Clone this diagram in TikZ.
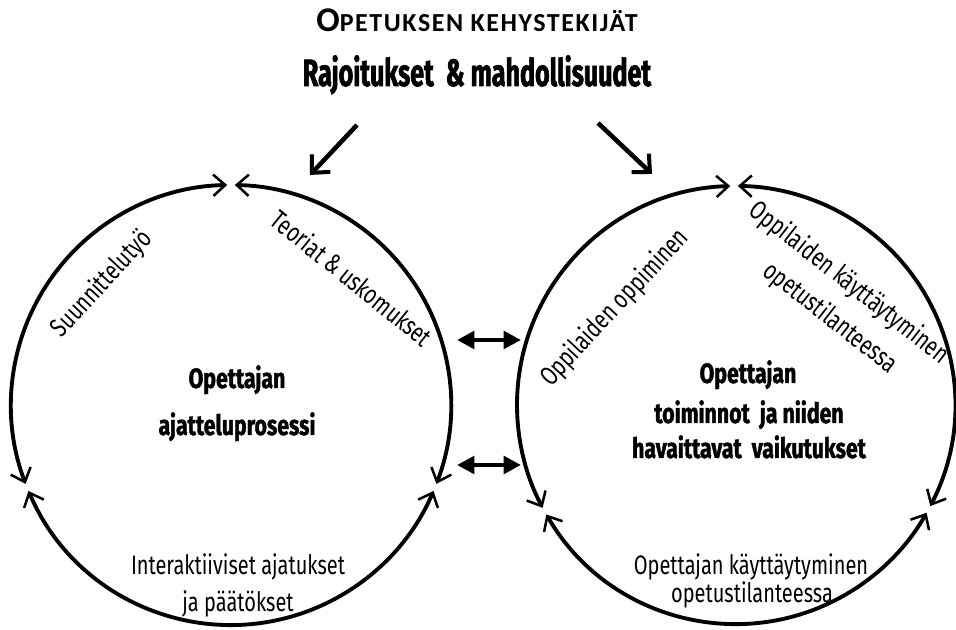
\documentclass[tikz,border=0pt]{standalone}
\usepackage{fontspec}
\usetikzlibrary{arrows.meta,calc}
\newfontfamily\labfont{Fira Sans}[FakeStretch=0.75]
\newfontfamily\boldfont{Fira Sans Bold}[FakeStretch=0.76,FakeBold=1.4]
\newfontfamily\headfont{Fira Sans Bold}[FakeStretch=0.66,FakeBold=1.6]
\newfontfamily\capfont{Carlito Bold}[LetterSpace=6]
\begin{document}
\begin{tikzpicture}[x=0.75pt,y=0.75pt,
  ring/.style={line width=2.9pt,
    {Straight Barb[length=9pt,width=16pt,line width=1.9pt]}-{Straight Barb[length=9pt,width=16pt,line width=1.9pt]}},
  feed/.style={line width=3.4pt,-{Straight Barb[length=10pt,width=19pt,line width=3pt]}},
  both/.style={line width=3.4pt,{Triangle[length=13pt,width=13pt]}-{Triangle[length=13pt,width=13pt]}},
  lab/.style={font=\labfont\fontsize{20}{24}\selectfont,inner sep=0pt},
  blab/.style={font=\boldfont\fontsize{21}{25}\selectfont,inner sep=0pt},
]
\useasboundingbox (0,0) rectangle (956,630);
\fill[white] (0,0) rectangle (956,630);

% titles
\node[anchor=base,inner sep=0pt,font=\capfont] (t1) at (477,598)
  {\fontsize{26}{29}\selectfont O\fontsize{19.5}{22}\selectfont PETUKSEN KEHYSTEKIJÄT};
\node[anchor=base,inner sep=0pt,font=\headfont\fontsize{28.5}{31}\selectfont] (t2) at (477,544)
  {Rajoitukset\ \ \& mahdollisuudet};

% arrows from the framework
\coordinate (a1s) at (357,505); \coordinate (a1e) at (310,455);
\coordinate (a2s) at (598,507); \coordinate (a2e) at (652,456);
\draw[feed] (a1s) -- (a1e);
\draw[feed] (a2s) -- (a2e);

% circle centres
\coordinate (L) at (231,225);
\coordinate (R) at (736,225);

% left cycle
\draw[ring] ($(L)+(91:220)$) arc[start angle=91,end angle=201,radius=220];
\draw[ring] ($(L)+(203:220)$) arc[start angle=203,end angle=337,radius=220];
\draw[ring] ($(L)+(339:220)$) arc[start angle=339,end angle=449,radius=220];

% right cycle
\draw[ring] ($(R)+(91.5:219)$) arc[start angle=91.5,end angle=208,radius=219];
\draw[ring] ($(R)+(210:219)$) arc[start angle=210,end angle=330.5,radius=219];
\draw[ring] ($(R)+(332.5:219)$) arc[start angle=332.5,end angle=449.5,radius=219];

% interaction arrows
\coordinate (b1l) at (457,290); \coordinate (b1r) at (521,290);
\coordinate (b2l) at (457,165); \coordinate (b2r) at (521,165);
\draw[both] (b1l) -- (b1r);
\draw[both] (b2l) -- (b2r);

% left circle texts
\node[lab,rotate=47] (suun) at (102,346) {Suunnittelutyö};
\node[lab,rotate=-39] (teor) at (352,352) {Teoriat \& uskomukset};
\node[blab,anchor=base] (lc1) at (237,242) {Opettajan};
\node[blab,anchor=base] (lc2) at (237,195) {ajatteluprosessi};
\node[lab,anchor=base] (lb1) at (238,55) {Interaktiiviset ajatukset};
\node[lab,anchor=base] (lb2) at (238,18) {ja päätökset};

% right circle texts
\node[lab,rotate=47] (oppi) at (615,322) {Oppilaiden oppiminen};
\node[lab,rotate=-38] (kay1) at (849,347) {Oppilaiden käyttäytyminen};
\node[lab,rotate=-38] (kay2) at (830,312) {opetustilanteessa};
\node[blab,anchor=base] (rc1) at (748,247) {Opettajan};
\node[blab,anchor=base] (rc2) at (749,207) {toiminnot\ \ ja niiden};
\node[blab,anchor=base] (rc3) at (749,172) {havaittavat\ \ vaikutukset};
\node[lab,anchor=base] (rb1) at (751,55) {Opettajan käyttäytyminen};
\node[lab,anchor=base] (rb2) at (752,27) {opetustilanteessa};
\end{tikzpicture}
\end{document}
